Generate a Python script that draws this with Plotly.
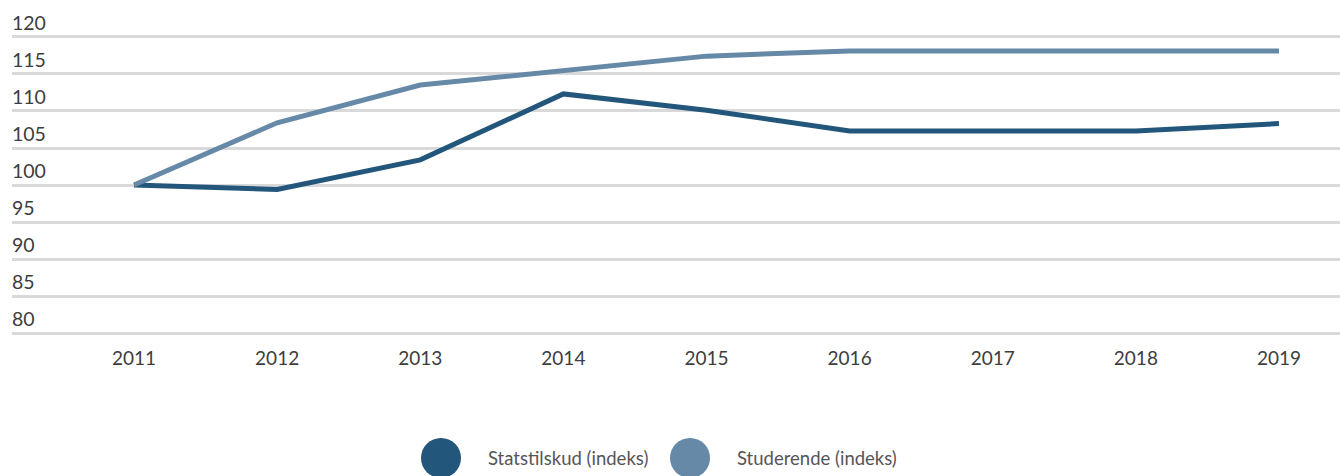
import plotly.graph_objects as go

years = [2011, 2012, 2013, 2014, 2015, 2016, 2017, 2018, 2019]
statstilskud = [100, 99.4, 103.4, 112.3, 110.1, 107.3, 107.3, 107.3, 108.3]
studerende = [100, 108.4, 113.5, 115.4, 117.4, 118.1, 118.1, 118.1, 118.1]
series_names = ["Statstilskud (indeks)", "Studerende (indeks)"]
colors = ["#23567b", "#6589a6"]
y_ticks = [80, 85, 90, 95, 100, 105, 110, 115, 120]
x_tick_labels = [str(y) for y in years]

W, H = 1340, 476
ML, MR, MT, MB = 12, 0, 5, 139
PW, PH = W - ML - MR, H - MT - MB

fig = go.Figure()
for name, vals, col in zip(series_names, [statstilskud, studerende], colors):
    fig.add_trace(go.Scatter(x=years, y=vals, mode="lines", name=name,
                             line=dict(color=col, width=5), showlegend=False))

font_family = "Lato, Open Sans, sans-serif"
fig.update_layout(
    width=W, height=H,
    margin=dict(l=ML, r=MR, t=MT, b=MB, autoexpand=False),
    paper_bgcolor="white", plot_bgcolor="white",
    font=dict(family=font_family, color="#3d3d3d"),
    xaxis=dict(range=[2011 - 122 / 143.1, 2019 + 61 / 143.1],
               tickvals=years, ticktext=x_tick_labels, showgrid=False,
               zeroline=False, showline=False, ticks="", automargin=False,
               tickfont=dict(size=19, color="#3d3d3d"), ticklabelstandoff=8),
    yaxis=dict(range=[79.5, 124.3], tickvals=y_ticks, showgrid=True,
               gridcolor="#d9d9d9", gridwidth=3, zeroline=False,
               showline=False, ticks="", ticklabelposition="inside top",
               automargin=False, ticklabelstandoff=-3,
               tickfont=dict(size=19.5, color="#3d3d3d")),
)

# manual legend with large circles
legend_cx = [441, 690]
text_x = [486, 735]
cy = 458
for cx, tx, col, name in zip(legend_cx, text_x, colors, series_names):
    px = (cx - ML) / PW
    py = (MT + PH - cy) / PH
    fig.add_shape(type="circle", xref="paper", yref="paper",
                  xsizemode="pixel", ysizemode="pixel",
                  xanchor=px, yanchor=py, x0=-20, x1=20, y0=-20, y1=20,
                  fillcolor=col, line=dict(width=0))
    fig.add_annotation(xref="paper", yref="paper", x=(tx - ML) / PW, y=py,
                       text=name, showarrow=False, xanchor="left",
                       yanchor="middle", font=dict(size=18.5, color="#555555"))

fig.write_html("out.html", config={"displayModeBar": False},
               post_script="document.body.style.margin='0';document.body.style.overflow='hidden';")
